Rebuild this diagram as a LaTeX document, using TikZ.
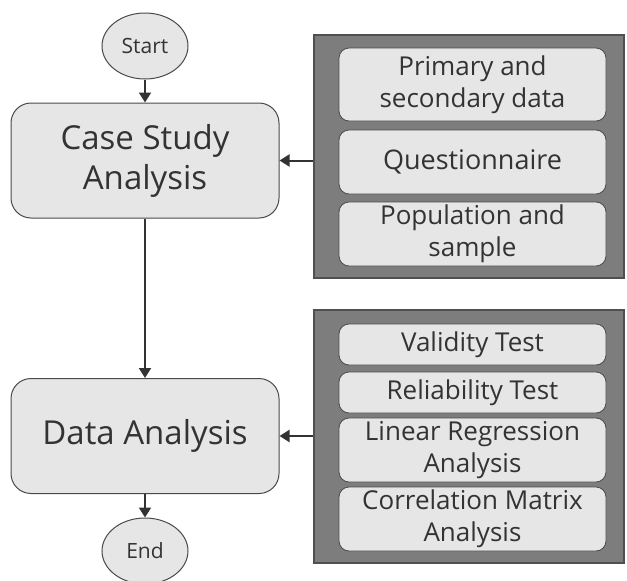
\documentclass[tikz,border=0pt]{standalone}
\usepackage{fontspec}
\setmainfont{Open Sans}
\usetikzlibrary{shapes.geometric,arrows.meta}
\definecolor{boxfill}{HTML}{E6E6E6}
\definecolor{boxline}{HTML}{4A4A4A}
\definecolor{panelfill}{HTML}{7D7D7D}
\definecolor{panelline}{HTML}{505050}
\definecolor{txt}{HTML}{333333}
\begin{document}
\begin{tikzpicture}[x=1pt,y=-1pt,
  term/.style={ellipse,draw=boxline,fill=boxfill,line width=1pt,minimum width=86pt,minimum height=66pt,inner sep=0pt,text=txt,font=\fontsize{21}{24}\selectfont},
  mainbox/.style={draw=boxline,fill=boxfill,line width=1pt,rounded corners=20pt,minimum width=268pt,minimum height=115pt,inner sep=0pt,text=txt,align=center,font=\fontsize{33}{40}\selectfont},
  panel/.style={draw=panelline,fill=panelfill,line width=1.2pt,inner sep=0pt},
  item/.style={draw=boxline,fill=boxfill,line width=0.8pt,rounded corners=10pt,minimum width=267pt,inner sep=0pt,text=txt,align=center,font=\fontsize{26}{32}\selectfont},
  arr/.style={draw=txt,line width=2pt,-{Triangle[length=10pt,width=12pt]}},
  ln/.style={draw=txt,line width=2pt}]
\useasboundingbox (0,0) rectangle (627,581);
\node[term] (start) at (145,46) {Start};
\node[mainbox] (case) at (145,160.5) {Case Study\\Analysis};
\node[mainbox] (data) at (145,436) {Data Analysis};
\node[term] (end) at (145,551) {End};
\node[panel,minimum width=310pt,minimum height=243pt] (p1) at (469,156.5) {};
\node[panel,minimum width=310pt,minimum height=253pt] (p2) at (469,436.5) {};
\node[item,minimum height=73pt] (i1) at (472.5,84.5) {Primary and\\secondary data};
\node[item,minimum height=64pt,font=\fontsize{27}{32}\selectfont] (i2) at (472.5,162) {Questionnaire};
\node[item,minimum height=64pt] (i3) at (472.5,234) {Population and\\sample};
\node[item,minimum height=41pt] (j1) at (472.5,344.5) {Validity Test};
\node[item,minimum height=41pt] (j2) at (472.5,392.5) {Reliability Test};
\node[item,minimum height=64pt] (j3) at (472.5,450) {Linear Regression\\Analysis};
\node[item,minimum height=64pt] (j4) at (472.5,519) {Correlation Matrix\\Analysis};
\draw[arr] (start) -- (case);
\draw[arr] (case) -- (data);
\draw[arr] (data) -- (end);
\draw[arr] (p1.west |- case.east) -- (case.east);
\draw[arr] (p2.west |- data.east) -- (data.east);
\end{tikzpicture}
\end{document}
